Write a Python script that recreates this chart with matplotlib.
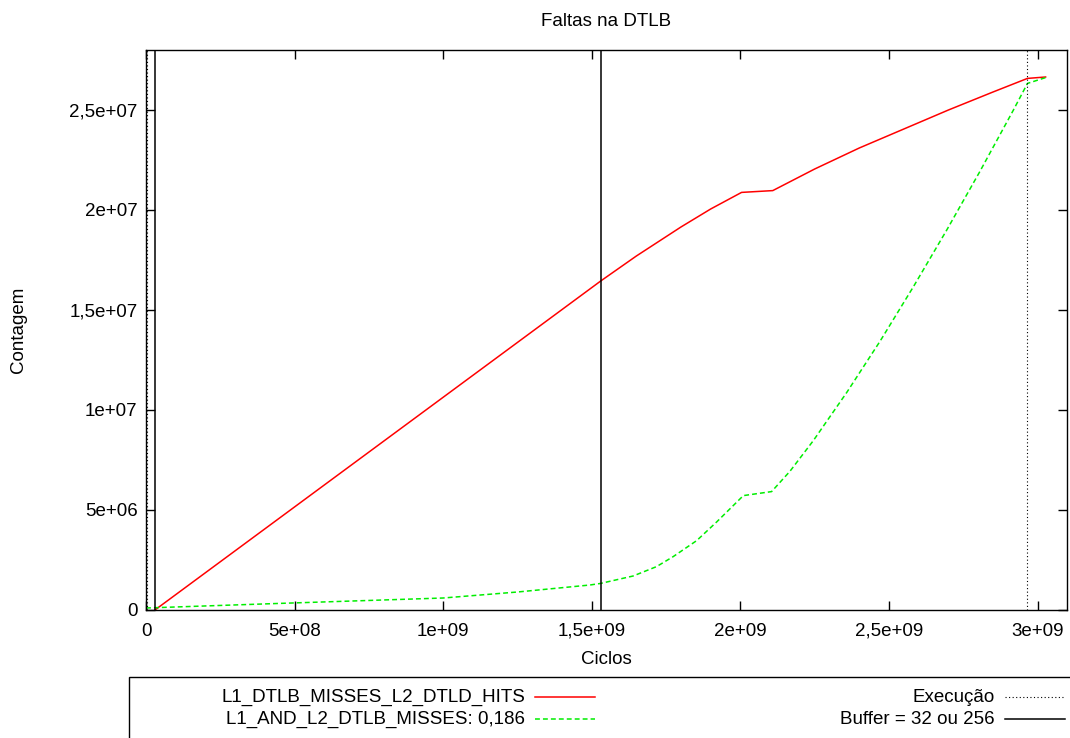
import matplotlib
matplotlib.use("Agg")
from matplotlib import pyplot as plt
from matplotlib.lines import Line2D
from matplotlib.patches import Rectangle
from matplotlib.ticker import FuncFormatter, MultipleLocator

plt.rcParams["font.family"] = ["Liberation Sans", "DejaVu Sans"]
plt.rcParams["font.size"] = 13.5

# ciclos (x) e contagem (y)
hits_x = [0.03e9, 1.53e9, 1.65e9, 1.80e9, 1.90e9, 2.004e9, 2.109e9, 2.25e9,
          2.40e9, 2.55e9, 2.70e9, 2.85e9, 2.966e9, 3.027e9]
hits_y = [0, 16.45e6, 17.7e6, 19.15e6, 20.05e6, 20.88e6, 20.97e6, 22.05e6,
          23.1e6, 24.05e6, 25.0e6, 25.9e6, 26.58e6, 26.65e6]

miss_x = [0.0, 0.45e9, 1.0e9, 1.25e9, 1.494e9, 1.53e9, 1.639e9, 1.718e9,
          1.774e9, 1.853e9, 1.92e9, 2.01e9, 2.105e9, 2.167e9, 2.245e9,
          2.358e9, 2.47e9, 2.582e9, 2.694e9, 2.806e9, 2.918e9, 2.966e9,
          3.027e9]
miss_y = [0.1e6, 0.33e6, 0.6e6, 0.9e6, 1.25e6, 1.33e6, 1.7e6, 2.17e6,
          2.67e6, 3.47e6, 4.4e6, 5.72e6, 5.92e6, 6.94e6, 8.46e6,
          10.88e6, 13.44e6, 16.16e6, 18.99e6, 21.93e6, 24.98e6, 26.33e6,
          26.62e6]

execucao = [0.002e9, 2.966e9]
buffer_ = [0.03e9, 1.53e9]

W, H = 1070, 738
fig = plt.figure(figsize=(W / 100, H / 100), dpi=100)
ax = fig.add_axes([146 / W, 1 - 610 / H, (1067.3 - 146) / W, (610 - 50) / H])

green_dash = (0, (3.2, 2.0))
dotted = (0, (1, 2.2))

ax.plot(hits_x, hits_y, color="#ff0000", lw=1.1)
ax.plot(miss_x, miss_y, color="#00ee00", lw=1.1, linestyle=green_dash)
for v in execucao:
    ax.axvline(v, color="black", lw=0.8, linestyle=dotted)
for v in buffer_:
    ax.axvline(v, color="black", lw=1.1)

ax.set_xlim(0, 3.1e9)
ax.set_ylim(0, 2.8e7)
ax.xaxis.set_major_locator(MultipleLocator(5e8))
ax.yaxis.set_major_locator(MultipleLocator(5e6))


def gfmt(v, pos):
    return ("%g" % v).replace(".", ",")


ax.xaxis.set_major_formatter(FuncFormatter(gfmt))
ax.yaxis.set_major_formatter(FuncFormatter(gfmt))
ax.tick_params(direction="in", length=6.5, width=1.0, top=True, right=True)
ax.tick_params(axis="y", pad=6)
ax.tick_params(axis="x", pad=9)
for s in ax.spines.values():
    s.set_linewidth(1.0)

fig.text(606 / W, 1 - 22 / H, "Faltas na DTLB", ha="center", va="center")
fig.text(606 / W, 1 - 659 / H, "Ciclos", ha="center", va="center")
fig.text(18 / W, 1 - 330 / H, "Contagem", ha="center", va="center",
         rotation=90)

# caixa da legenda
fig.add_artist(Rectangle((129 / W, -0.02), 1.05 - 129 / W, 0.02 + 1 - 677 / H,
                         transform=fig.transFigure, fill=False,
                         edgecolor="black", lw=1.0))
entries = [
    ("L1_DTLB_MISSES_L2_DTLD_HITS", 525, 697, dict(color="#ff0000", lw=1.1)),
    ("L1_AND_L2_DTLB_MISSES: 0,186", 525, 719,
     dict(color="#00ee00", lw=1.1, linestyle=green_dash)),
    ("Execução", 995, 697, dict(color="black", lw=0.8, linestyle=dotted)),
    ("Buffer = 32 ou 256", 995, 719, dict(color="black", lw=1.1)),
]
for label, xr, yc, style in entries:
    fig.text(xr / W, 1 - yc / H, label, ha="right", va="center")
    fig.add_artist(Line2D([(xr + 10) / W, (xr + 70) / W],
                          [1 - yc / H, 1 - yc / H],
                          transform=fig.transFigure, **style))

fig.savefig("out.png", dpi=100)
